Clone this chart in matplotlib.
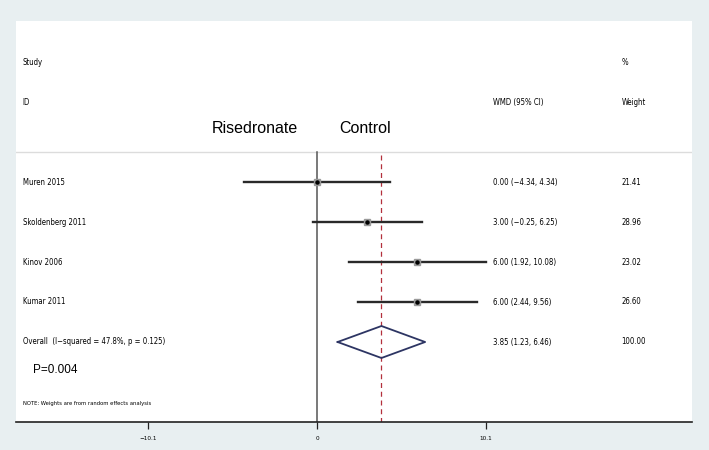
import matplotlib
matplotlib.use("Agg")
import matplotlib.pyplot as plt

# datos del forest plot
estudios = ["Muren 2015", "Skoldenberg 2011", "Kinov 2006", "Kumar 2011"]
wmd = [0.00, 3.00, 6.00, 6.00]
ic_bajo = [-4.34, -0.25, 1.92, 2.44]
ic_alto = [4.34, 6.25, 10.08, 9.56]
pesos = [21.41, 28.96, 23.02, 26.60]

global_wmd = 3.85
global_bajo = 1.23
global_alto = 6.46
global_texto = "Overall  (I\u2212squared = 47.8%, p = 0.125)"

ticks_x = [-10.1, 0, 10.1]
ticks_texto = ["\u221210.1", "0", "10.1"]

fondo = "#e8eff1"
fuente_chica = ["DejaVu Sans"]
fuente_grande = ["Liberation Sans", "DejaVu Sans"]

fig = plt.figure(figsize=(7.09, 4.5), dpi=100, facecolor=fondo)
ax = fig.add_axes([16 / 709, 1 - 422 / 450, 676 / 709, 401 / 450])
ax.set_facecolor("white")

ax.set_xlim(-17.99, 22.41)
ax.set_ylim(6.0, -4.025)

# columnas de texto
x_nombre = -17.6
x_wmd = 10.5
x_peso = 18.2
tam = 5.6


def texto(x, y, s, size=tam):
    ax.text(x, y, s, fontsize=size, family=fuente_chica, fontstretch="condensed", va="center")


texto(x_nombre, -3, "Study")
texto(x_nombre, -2, "ID")
texto(x_peso, -3, "%")
texto(x_wmd, -2, "WMD (95% CI)")
texto(x_peso, -2, "Weight")

ax.text(-3.7, -1.35, "Risedronate", fontsize=11.5, family=fuente_grande, ha="center", va="center")
ax.text(2.9, -1.35, "Control", fontsize=11.5, family=fuente_grande, ha="center", va="center")

# linea gris bajo el encabezado
ax.axhline(-0.75, color="#dcdcdc", lw=1)

# linea de no efecto y linea del efecto global
ax.plot([0, 0], [-0.75, 6.0], color="#555555", lw=1.1, zorder=2)
ax.plot([global_wmd, global_wmd], [-0.68, 6.0], color="#b3303c", lw=0.9,
        linestyle=(0, (4, 3)), zorder=2)

# estudios individuales
for i in range(len(estudios)):
    ax.plot([ic_bajo[i], ic_alto[i]], [i, i], color="#2a2a2a", lw=1.7, zorder=3)
    ax.plot(wmd[i], i, marker="s", ms=4.5, color="#9a9a9a", mec="#9a9a9a", zorder=4)
    ax.plot(wmd[i], i, marker="o", ms=2.2, color="black", zorder=5)
    texto(x_nombre, i, estudios[i])
    texto_ic = f"{wmd[i]:.2f} ({ic_bajo[i]:.2f}, {ic_alto[i]:.2f})".replace("-", "\u2212")
    texto(x_wmd, i, texto_ic)
    texto(x_peso, i, f"{pesos[i]:.2f}")

# diamante global
fila_g = len(estudios)
ax.plot([global_bajo, global_wmd, global_alto, global_wmd, global_bajo],
        [fila_g, fila_g - 0.4, fila_g, fila_g + 0.4, fila_g],
        color="#2d3563", lw=1.3, zorder=4)
texto(x_nombre, fila_g, global_texto)
texto(x_wmd, fila_g, f"{global_wmd:.2f} ({global_bajo:.2f}, {global_alto:.2f})")
texto(x_peso, fila_g, "100.00")

ax.text(-17.0, 4.7, "P=0.004", fontsize=8.5, family=fuente_grande, va="center")
texto(x_nombre, 5.55, "NOTE: Weights are from random effects analysis", size=4.2)

# ejes
for lado in ["left", "right", "top"]:
    ax.spines[lado].set_visible(False)
ax.spines["bottom"].set_color("#222222")
ax.spines["bottom"].set_linewidth(1.2)
ax.set_yticks([])
ax.set_xticks(ticks_x)
ax.set_xticklabels(ticks_texto, fontsize=4.6, family=fuente_chica, fontstretch="condensed")
ax.tick_params(axis="x", direction="out", length=5, width=0.9, pad=5, color="#222222")

fig.savefig("out.png", dpi=100, facecolor=fondo)
